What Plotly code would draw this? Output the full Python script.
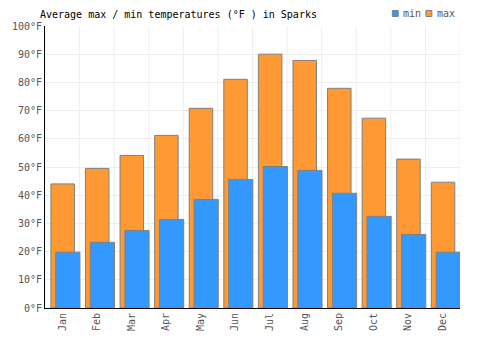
import plotly.graph_objects as go

months = ["Jan", "Feb", "Mar", "Apr", "May", "Jun", "Jul", "Aug", "Sep", "Oct", "Nov", "Dec"]
max_temps = [44, 49.5, 54.1, 61.2, 70.8, 81.1, 90.0, 87.8, 77.9, 67.3, 52.8, 44.6]
min_temps = [19.8, 23.3, 27.5, 31.4, 38.5, 45.6, 50.2, 48.8, 40.7, 32.5, 26.1, 19.8]
y_ticks = list(range(0, 101, 10))
y_tick_labels = [f"{v}°F" for v in y_ticks]

FONT = "DejaVu Sans Mono"
W, H = 500, 350
L, R, T, B = 40, 40, 26, 42
PW, PH = W - L - R, H - T - B


def px_x(px):
    return (px - L) / PW


def px_y(py):
    return (H - B - py) / PH


fig = go.Figure()
fig.add_trace(go.Bar(
    x=months, y=max_temps, name="max",
    marker=dict(color="#FF9933", line=dict(color="#808080", width=1)),
    width=0.68, offset=-0.33,
))
fig.add_trace(go.Bar(
    x=months, y=min_temps, name="min",
    marker=dict(color="#3399FF", line=dict(color="#808080", width=1)),
    width=0.70, offset=-0.19,
))

fig.update_layout(
    width=W, height=H,
    margin=dict(l=L, r=R, t=T, b=B),
    barmode="overlay",
    paper_bgcolor="white", plot_bgcolor="white",
    font=dict(family=FONT, size=10, color="#555555"),
    title=dict(text="Average max / min temperatures (°F ) in Sparks",
               x=40/W, xanchor="left", y=1-14/H, yanchor="middle",
               font=dict(family=FONT, size=10, color="black")),
    showlegend=False,
)
fig.update_xaxes(
    type="category", tickangle=-90, showgrid=False,
    showline=True, linecolor="black", linewidth=1, ticks="",
    tickfont=dict(family=FONT, size=10, color="#555555"),
    range=[-0.5, 11.5],
)
fig.update_yaxes(
    range=[0, 100], tickvals=y_ticks, ticktext=y_tick_labels,
    showgrid=True, gridcolor="#EEEEEE",
    showline=True, linecolor="black", linewidth=1, ticks="", zeroline=False,
    tickfont=dict(family=FONT, size=10, color="#555555"),
)
# vertical grid lines at category boundaries
for i in range(len(months)):
    fig.add_vline(x=i + 0.5, line=dict(color="#EEEEEE", width=1), layer="below")

# custom legend (min, max)
legend_items = [("min", "#3399FF", 391.5, 400.5), ("max", "#FF9933", 425.5, 434.5)]
for name, color, sx, tx in legend_items:
    fig.add_shape(type="rect", xref="paper", yref="paper",
                  x0=px_x(sx), x1=px_x(sx + 6), y0=px_y(16.5), y1=px_y(10.5),
                  fillcolor=color, line=dict(color="#808080", width=1))
    fig.add_annotation(text=name, xref="paper", yref="paper",
                       x=px_x(tx), y=px_y(13.5), xanchor="left", yanchor="middle",
                       showarrow=False, font=dict(family=FONT, size=10, color="#555555"))

fig.write_html("out.html")
